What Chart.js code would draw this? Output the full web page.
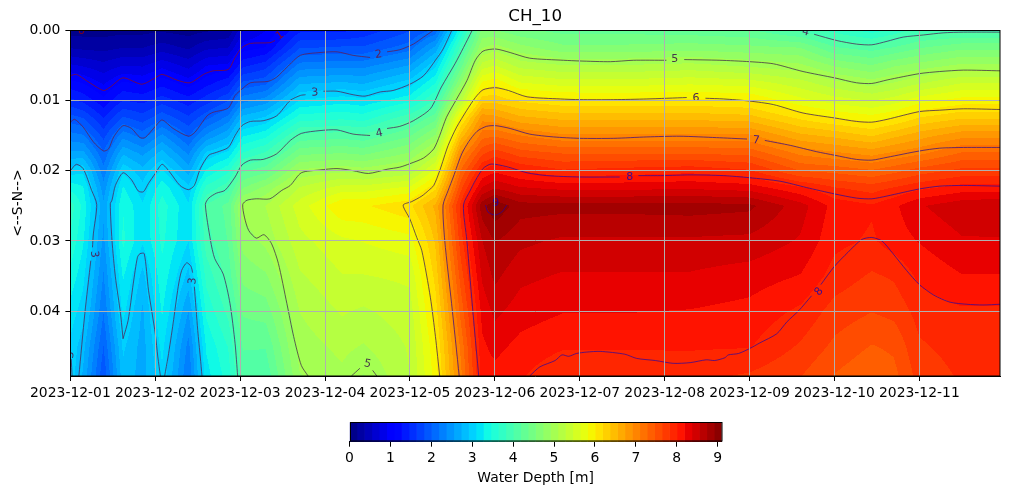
<!DOCTYPE html>
<html>
<head>
<meta charset="utf-8">
<title>CH_10</title>
<script src="https://cdn.jsdelivr.net/npm/chart.js@4/dist/chart.umd.min.js"></script>
<style>
  html, body { margin: 0; padding: 0; background: #fff; }
  canvas { position: absolute; left: 0; }
  #depthChart { top: 0; }
  #colorBar { top: 400px; }
</style>
</head>
<body>
<canvas id="depthChart" width="1010" height="400"></canvas>
<canvas id="colorBar" width="1010" height="94"></canvas>
<script>
// tick labels
const dayLabels = ['2023-12-01', '2023-12-02', '2023-12-03', '2023-12-04', '2023-12-05', '2023-12-06',
                   '2023-12-07', '2023-12-08', '2023-12-09', '2023-12-10', '2023-12-11'];
const lastDay = 10.95;
const lastPosition = 0.0492;
const depthMax = 9.1;
const bandCount = 50;

// depth field: one list per column of gridDays, one value per gridPositions
const gridDays = [0, 0.15, 0.39, 0.62, 0.85, 1.08, 1.39, 1.6, 1.86, 2.03, 2.3, 2.7, 3.2, 3.45, 4, 4.3,
                  4.6, 4.85, 5, 5.3, 5.8, 6.5, 7.3, 8, 8.6, 9, 9.44, 9.7, 10, 10.5, 10.95];
const gridPositions = [0, 0.0025, 0.005, 0.0075, 0.01, 0.0125, 0.015, 0.0175, 0.02, 0.0225, 0.025, 0.03, 0.035, 0.04, 0.045, 0.0492];
const depthByDay = [
  [0.1, 0.35, 0.75, 1.15, 1.5, 1.9, 2.25, 2.6, 3.0, 3.4, 3.75, 3.6, 3.4, 3.2, 3.05, 3.02],
  [0.1, 0.32, 0.7, 1.08, 1.4, 1.82, 2.2, 2.6, 3.05, 3.3, 3.4, 3.3, 3.15, 3.0, 2.8, 2.7],
  [0.1, 0.3, 0.6, 0.88, 1.15, 1.45, 1.75, 2.03, 2.25, 2.45, 2.6, 2.5, 2.35, 2.2, 2.0, 1.85],
  [0.12, 0.36, 0.72, 1.12, 1.45, 1.85, 2.3, 2.7, 3.05, 3.3, 3.45, 3.5, 3.3, 3.15, 2.95, 2.85],
  [0.12, 0.36, 0.7, 1.05, 1.4, 1.72, 2.1, 2.5, 2.8, 2.98, 3.12, 3.12, 2.85, 2.7, 2.65, 2.65],
  [0.15, 0.45, 0.85, 1.2, 1.55, 1.95, 2.4, 2.8, 3.12, 3.4, 3.55, 3.5, 3.4, 3.3, 3.15, 3.05],
  [0.1, 0.33, 0.66, 1.0, 1.35, 1.68, 1.98, 2.33, 2.65, 2.97, 3.12, 3.1, 2.85, 2.55, 2.3, 2.2],
  [0.15, 0.5, 0.9, 1.2, 1.55, 1.95, 2.4, 2.95, 3.3, 3.7, 4.02, 3.92, 3.7, 3.5, 3.3, 3.2],
  [0.2, 0.55, 0.95, 1.4, 1.8, 2.25, 2.7, 3.15, 3.6, 3.95, 4.25, 4.2, 4.08, 3.88, 3.65, 3.55],
  [0.7, 1.0, 1.4, 1.85, 2.3, 2.8, 3.25, 3.65, 4.15, 4.55, 5.0, 4.8, 4.6, 4.4, 4.2, 4.1],
  [0.9, 1.1, 1.55, 1.95, 2.45, 2.95, 3.4, 3.85, 4.3, 4.8, 5.1, 4.97, 4.7, 4.45, 4.2, 4.05],
  [1.4, 1.8, 2.25, 2.7, 3.1, 3.55, 4.05, 4.5, 4.95, 5.3, 5.55, 5.4, 5.25, 5.1, 5.0, 4.9],
  [1.4, 1.85, 2.3, 2.75, 3.2, 3.6, 4.1, 4.55, 5.05, 5.55, 5.98, 5.6, 5.45, 5.3, 5.15, 5.05],
  [1.5, 1.85, 2.3, 2.7, 3.15, 3.55, 4.05, 4.5, 5.0, 5.55, 5.98, 5.65, 5.45, 5.25, 5.08, 4.9],
  [1.8, 2.1, 2.55, 3.0, 3.4, 3.95, 4.35, 4.75, 5.15, 5.7, 6.15, 5.75, 5.5, 5.38, 5.3, 5.28],
  [2.05, 2.6, 3.05, 3.45, 3.85, 4.3, 4.75, 5.2, 5.7, 6.15, 6.6, 6.4, 6.25, 6.1, 5.97, 5.9],
  [3.45, 3.9, 4.3, 4.75, 5.25, 5.95, 6.45, 6.95, 7.3, 7.6, 7.9, 7.75, 7.55, 7.35, 7.15, 7.05],
  [4.6, 4.9, 5.35, 5.85, 6.3, 6.85, 7.2, 7.6, 8.02, 8.4, 8.85, 8.55, 8.4, 8.25, 8.15, 8.1],
  [4.55, 5.0, 5.45, 5.95, 6.3, 6.8, 7.25, 7.75, 8.15, 8.55, 9.06, 8.75, 8.6, 8.42, 8.25, 8.12],
  [4.4, 4.8, 5.2, 5.65, 6.15, 6.6, 7.1, 7.55, 8.0, 8.4, 8.82, 8.6, 8.42, 8.28, 8.13, 8.03],
  [4.3, 4.6, 5.1, 5.55, 6.05, 6.5, 6.95, 7.45, 7.85, 8.33, 8.8, 8.52, 8.35, 8.2, 8.03, 7.85],
  [4.3, 4.6, 5.1, 5.55, 6.03, 6.5, 6.95, 7.45, 7.9, 8.33, 8.8, 8.52, 8.35, 8.2, 8.03, 7.85],
  [4.25, 4.65, 5.15, 5.6, 6.05, 6.5, 6.95, 7.45, 7.95, 8.35, 8.82, 8.52, 8.35, 8.18, 8.03, 7.88],
  [4.2, 4.6, 5.05, 5.55, 6.0, 6.45, 6.95, 7.4, 7.85, 8.3, 8.78, 8.5, 8.28, 8.13, 8.02, 7.8],
  [3.95, 4.55, 4.95, 5.35, 5.7, 6.15, 6.6, 7.05, 7.45, 8.05, 8.45, 8.35, 8.18, 7.97, 7.8, 7.65],
  [3.75, 4.2, 4.7, 5.15, 5.55, 6.0, 6.5, 6.95, 7.4, 7.85, 8.12, 8.06, 7.93, 7.75, 7.6, 7.45],
  [3.55, 4.1, 4.55, 5.0, 5.45, 5.9, 6.35, 6.85, 7.3, 7.75, 8.03, 7.98, 7.8, 7.65, 7.45, 7.3],
  [3.7, 4.2, 4.7, 5.1, 5.55, 6.0, 6.5, 6.95, 7.4, 7.85, 8.15, 8.1, 7.85, 7.7, 7.5, 7.4],
  [3.9, 4.35, 4.8, 5.25, 5.75, 6.2, 6.65, 7.05, 7.55, 7.97, 8.35, 8.2, 8.05, 7.9, 7.8, 7.72],
  [3.95, 4.5, 4.95, 5.45, 5.9, 6.35, 6.85, 7.3, 7.7, 8.1, 8.5, 8.35, 8.18, 7.98, 7.9, 7.85],
  [3.95, 4.5, 4.95, 5.45, 5.9, 6.35, 6.85, 7.3, 7.7, 8.1, 8.55, 8.35, 8.18, 7.98, 7.9, 7.85]
];

// contour lines, null marks the gap left for a label
const contour1Days = [0, 0.07, 0.19, 0.39, 0.47, 0.62, 0.84, 1.0, 1.08, 1.25, 1.41, 1.57, 1.68, 1.86, 1.94, 2.02, 2.12, 2.35, 2.41, 2.47, 2.5];
const contour1Pos = [0.0065, 0.0063, 0.0072, 0.0086, 0.0081, 0.0068, 0.0077, 0.0068, 0.0063, 0.0071, 0.0075, 0.0063, 0.0058, 0.0056, 0.0039, 0.0025, 0.0019, 0.0018, 0.0015, null, 0.0001];

const contour2Days = [0, 0.05, 0.15, 0.27, 0.39, 0.45, 0.51, 0.62, 0.72, 0.82, 0.88, 1.0, 1.08, 1.21, 1.39, 1.47, 1.61, 1.68, 1.86, 1.94, 2.02, 2.12, 2.33, 2.43, 2.55, 2.71, 2.94, 3.14, 3.33, 3.53, 3.63, 3.73, 3.88, 4.04, 4.16, 4.27];
const contour2Pos = [0.0131, 0.0127, 0.0138, 0.0159, 0.0172, 0.0169, 0.0152, 0.0136, 0.014, 0.0153, 0.0153, 0.0137, 0.0128, 0.014, 0.0151, 0.0145, 0.0122, 0.0117, 0.0111, 0.0093, 0.0084, 0.0075, 0.0073, 0.0067, 0.0053, 0.0036, 0.0032, 0.0031, 0.0036, 0.0039, null, 0.0031, 0.0028, 0.002, 0.001, 0.0001];

const contour3aDays = [0, 0.07, 0.15, 0.25, 0.31, 0.27, 0.26, 0.28, 0.24, 0.17, 0.1];
const contour3aPos = [0.02, 0.0191, 0.0197, 0.0228, 0.0248, 0.029, 0.0309, null, 0.0328, 0.0403, 0.0492];
const contour3bDays = [0.01, 0.02];
const contour3bPos = [0.0468, 0.0492];
const contour3cDays = [0.62, 0.59, 0.53, 0.49, 0.47, 0.49, 0.53, 0.62, 0.72, 0.8, 0.86, 0.92, 1.0, 1.08, 1.17, 1.29, 1.39, 1.46, 1.53, 1.63, 1.72, 1.86, 1.94, 2.02, 2.12, 2.27, 2.43, 2.59, 2.71, 2.77, 2.88, 2.98, 3.14, 3.33, 3.47, 3.65, 3.8, 4.0, 4.16, 4.3, 4.39, 4.49];
const contour3cPos = [0.0439, 0.0403, 0.0351, 0.0299, 0.0247, 0.0242, 0.0221, 0.0203, 0.0213, 0.0229, 0.023, 0.0218, 0.0204, 0.0191, 0.0202, 0.0221, 0.0227, 0.0221, 0.0197, 0.0178, 0.0174, 0.0167, 0.015, 0.0136, 0.013, 0.0129, 0.0122, 0.01, 0.0093, 0.0092, null, 0.0087, 0.0087, 0.0092, 0.0094, 0.0088, 0.0086, 0.0077, 0.0065, 0.0043, 0.0027, 0.0001];
const contour3dDays = [0.62, 0.68, 0.74, 0.79, 0.82, 0.87, 0.92, 1.0, 1.03, 1.06];
const contour3dPos = [0.0439, 0.0413, 0.0361, 0.0323, 0.0318, 0.0318, 0.037, 0.0432, 0.0465, 0.0492];
const contour3eDays = [1.11, 1.15, 1.21, 1.27, 1.31, 1.37, 1.42, 1.44, 1.44, 1.46, 1.5, 1.53, 1.55];
const contour3ePos = [0.0492, 0.0465, 0.0417, 0.0365, 0.0342, 0.0331, 0.0336, 0.0345, null, 0.0365, 0.0427, 0.0465, 0.0492];

const contour4aDays = [1.97, 1.94, 1.88, 1.8, 1.7, 1.65, 1.59, 1.63, 1.72, 1.82, 1.94, 2.02, 2.12, 2.27, 2.43, 2.59, 2.72, 2.94, 3.14, 3.33, 3.53, 3.64, 3.73, 3.88, 4.04, 4.24, 4.37, 4.53, 4.63, 4.73];
const contour4aPos = [0.0492, 0.0446, 0.0389, 0.0347, 0.0325, 0.0299, 0.0248, 0.0239, 0.0232, 0.0228, 0.0209, 0.0192, 0.0185, 0.0184, 0.0176, 0.0157, 0.0147, 0.0143, 0.0142, 0.0148, 0.015, null, 0.014, 0.0137, 0.0129, 0.0112, 0.0081, 0.0048, 0.0025, 0.0001];
const contour4bDays = [8.76, 9.03, 9.26, 9.44, 9.62, 9.81, 10.05, 10.28, 10.52, 10.95];
const contour4bPos = [0.0006, 0.0015, 0.002, 0.0021, 0.0016, 0.001, 0.0007, 0.0004, 0.0003, 0.0003];

const contour5aDays = [2.8, 2.72, 2.63, 2.55, 2.45, 2.37, 2.28, 2.19, 2.1, 2.05, 2.03, 2.08, 2.19, 2.35, 2.49, 2.59, 2.72, 2.94, 3.14, 3.33, 3.51, 3.73, 3.88, 4.0, 4.16, 4.28, 4.35, 4.43, 4.55, 4.67, 4.77, 4.86, 5.01, 5.18, 5.41, 5.81, 6.0, 6.36, 6.63, 7.02, 7.12, 7.23, 7.65, 8.0, 8.28, 8.63, 9.0, 9.26, 9.44, 9.62, 10.0, 10.24, 10.52, 10.95];
const contour5aPos = [0.0492, 0.0477, 0.0436, 0.0389, 0.0332, 0.0304, 0.0291, 0.0296, 0.0285, 0.0266, 0.0248, 0.0242, 0.024, 0.024, 0.0228, 0.0221, 0.0203, 0.0199, 0.0197, 0.02, 0.0204, 0.0198, 0.0195, 0.019, 0.0182, 0.0169, 0.015, 0.0124, 0.0098, 0.0072, 0.0043, 0.003, 0.0027, 0.0032, 0.004, 0.0043, 0.0044, 0.0045, 0.0043, 0.0043, null, 0.0042, 0.0043, 0.0045, 0.0048, 0.0059, 0.0068, 0.0075, 0.0076, 0.0071, 0.0062, 0.0059, 0.0057, 0.0058];
const contour5bDays = [3.31, 3.41, 3.5, 3.56, 3.61];
const contour5bPos = [0.0492, 0.0481, null, 0.0484, 0.0492];

const contour6Days = [4.35, 4.3, 4.24, 4.14, 4.08, 4.0, 3.92, 4.02, 4.14, 4.22, 4.28, 4.35, 4.45, 4.55, 4.67, 4.77, 4.86, 5.01, 5.16, 5.38, 5.77, 6.0, 6.4, 6.79, 7.26, 7.37, 7.48, 7.69, 8.0, 8.28, 8.63, 9.0, 9.26, 9.44, 9.62, 10.0, 10.24, 10.52, 10.95];
const contour6Pos = [0.0492, 0.0436, 0.038, 0.0314, 0.0295, 0.0269, 0.0249, 0.0244, 0.0236, 0.0228, 0.0221, 0.02, 0.0164, 0.0138, 0.0114, 0.0096, 0.0085, 0.0082, 0.0086, 0.0095, 0.0098, 0.0099, 0.0099, 0.0098, 0.0096, null, 0.0097, 0.0098, 0.0101, 0.0106, 0.0118, 0.0125, 0.013, 0.0131, 0.0127, 0.0116, 0.0114, 0.0112, 0.0113];

const contour7Days = [4.58, 4.49, 4.41, 4.39, 4.45, 4.51, 4.61, 4.69, 4.79, 4.9, 5.01, 5.18, 5.41, 5.69, 6.0, 6.4, 6.79, 7.18, 7.61, 7.97, 8.08, 8.18, 8.48, 8.79, 9.0, 9.26, 9.44, 9.62, 10.0, 10.24, 10.52, 10.95];
const contour7Pos = [0.0492, 0.0389, 0.03, 0.0249, 0.0228, 0.0209, 0.0176, 0.0159, 0.0144, 0.0137, 0.0136, 0.014, 0.0148, 0.0152, 0.0154, 0.0154, 0.0152, 0.0151, 0.0153, 0.0155, null, 0.0157, 0.0164, 0.0173, 0.0178, 0.0184, 0.0185, 0.0181, 0.0172, 0.0168, 0.0167, 0.0167];

const contour8aDays = [4.81, 4.75, 4.67, 4.63, 4.71, 4.77, 4.86, 4.94, 5.01, 5.16, 5.38, 5.61, 6.0, 6.47, 6.59, 6.69, 6.98, 7.3, 7.69, 8.0, 8.36, 8.67, 9.0, 9.26, 9.44, 9.62, 10.0, 10.24, 10.52, 10.95];
const contour8aPos = [0.0492, 0.0413, 0.0299, 0.0249, 0.0228, 0.0214, 0.0197, 0.0191, 0.0191, 0.0195, 0.0203, 0.0207, 0.0209, 0.0209, null, 0.0207, 0.0207, 0.0206, 0.0207, 0.021, 0.0215, 0.0224, 0.0233, 0.0239, 0.024, 0.0236, 0.0226, 0.0222, 0.0221, 0.0222];
const contour8bDays = [5.41, 5.53, 5.71, 5.79, 5.87, 5.96, 6.08, 6.24, 6.53, 6.67, 6.89, 7.1, 7.3, 7.49, 7.59, 7.71, 7.75, 7.87, 8.0, 8.12, 8.32, 8.44, 8.58, 8.73, 8.82, 8.84, 9.0, 9.16, 9.32, 9.44, 9.56, 9.69, 9.85, 10.0, 10.17, 10.36, 10.56, 10.75, 10.95];
const contour8bPos = [0.0492, 0.0479, 0.047, 0.0462, 0.0464, 0.046, 0.0458, 0.0457, 0.0461, 0.0467, 0.047, 0.0474, 0.0473, 0.0469, 0.047, 0.0466, 0.0462, 0.046, 0.0453, 0.0445, 0.0432, 0.0415, 0.0399, 0.0378, null, 0.0362, 0.0336, 0.0316, 0.0298, 0.0295, 0.03, 0.0318, 0.0342, 0.0362, 0.0377, 0.0387, 0.039, 0.0391, 0.039];

const contour9Days = [4.89, 4.92, 5.0, 5.08, 5.14];
const contour9Pos = [0.0249, 0.0259, 0.0263, 0.0259, 0.0249];

const contourLines = [
  [1, contour1Days, contour1Pos], [2, contour2Days, contour2Pos],
  [3, contour3aDays, contour3aPos], [3, contour3bDays, contour3bPos], [3, contour3cDays, contour3cPos],
  [3, contour3dDays, contour3dPos], [3, contour3eDays, contour3ePos],
  [4, contour4aDays, contour4aPos], [4, contour4bDays, contour4bPos],
  [5, contour5aDays, contour5aPos], [5, contour5bDays, contour5bPos],
  [6, contour6Days, contour6Pos], [7, contour7Days, contour7Pos],
  [8, contour8aDays, contour8aPos], [8, contour8bDays, contour8bPos], [9, contour9Days, contour9Pos]
];

// contour labels
const labelTexts = ['0', '1', '2', '3', '3', '3', '3', '4', '4', '5', '5', '6', '7', '8', '8', '9'];
const labelDays = [0.13, 2.47, 3.63, 2.88, 0.28, 1.44, 0.0, 3.64, 8.66, 7.12, 3.5, 7.37, 8.08, 6.59, 8.82, 5.01];
const labelPos = [0.0002, 0.0008, 0.0035, 0.0089, 0.0319, 0.0357, 0.0462, 0.0147, 0.0003, 0.0042, 0.0475, 0.0097, 0.0157, 0.0209, 0.0372, 0.0246];
const labelAngles = [0, -35, -8, -3, 85, -85, -85, -12, 15, 0, 12, 0, 5, 0, -50, 0];

// line colour per level, dark red at the shallow end to indigo at the deep end
const levelColors = ['#8c0010', '#840a2c', '#5c1f58', '#4a2a60', '#4a2e5e', '#463648', '#4a2a50', '#46167a', '#3c0a90', '#300090'];
const fontFamily = '"DejaVu Sans", sans-serif';

Chart.defaults.color = '#000';
Chart.defaults.font.family = fontFamily;
Chart.defaults.font.size = 13.9;

// matplotlib jet
function jetChannel(stops, t) {
  for (let i = 1; i < stops.length; i++) {
    if (t <= stops[i][0]) {
      const a = stops[i - 1], b = stops[i];
      return a[1] + (b[1] - a[1]) * (t - a[0]) / (b[0] - a[0]);
    }
  }
  return stops[stops.length - 1][1];
}
function jet(t) {
  const r = jetChannel([[0, 0], [0.35, 0], [0.66, 1], [0.89, 1], [1, 0.5]], t);
  const g = jetChannel([[0, 0], [0.125, 0], [0.375, 1], [0.64, 1], [0.91, 0], [1, 0]], t);
  const b = jetChannel([[0, 0.5], [0.11, 1], [0.34, 1], [0.65, 0], [1, 0]], t);
  return 'rgb(' + Math.round(r * 255) + ',' + Math.round(g * 255) + ',' + Math.round(b * 255) + ')';
}
const bandColors = [];
for (let i = 0; i < bandCount; i++) bandColors.push(jet((i + 0.5) / bandCount));

function bandColor(value) {
  const i = Math.floor(value / depthMax * bandCount);
  return bandColors[Math.max(0, Math.min(bandCount - 1, i))];
}

function findCell(list, value) {
  for (let i = 1; i < list.length; i++) {
    if (value <= list[i]) return i - 1;
  }
  return list.length - 2;
}

function depthAt(day, pos) {
  const c = findCell(gridDays, day);
  const r = findCell(gridPositions, pos);
  const tx = (day - gridDays[c]) / (gridDays[c + 1] - gridDays[c]);
  const ty = (pos - gridPositions[r]) / (gridPositions[r + 1] - gridPositions[r]);
  const top = depthByDay[c][r] * (1 - tx) + depthByDay[c + 1][r] * tx;
  const low = depthByDay[c][r + 1] * (1 - tx) + depthByDay[c + 1][r + 1] * tx;
  return top * (1 - ty) + low * ty;
}

// filled contour bands, painted under the lines
const depthField = {
  id: 'depthField',
  beforeDatasetsDraw(chart) {
    const { ctx, chartArea, scales } = chart;
    ctx.save();
    for (let px = Math.floor(chartArea.left); px < chartArea.right; px++) {
      const day = Math.max(0, scales.x.getValueForPixel(px + 0.5));
      for (let py = Math.floor(chartArea.top); py < chartArea.bottom; py++) {
        const pos = Math.max(0, scales.y.getValueForPixel(py + 0.5));
        ctx.fillStyle = bandColor(depthAt(day, pos));
        ctx.fillRect(px, py, 1, 1);
      }
    }
    ctx.restore();
  }
};

const contourLabels = {
  id: 'contourLabels',
  afterDatasetsDraw(chart) {
    const { ctx, chartArea, scales } = chart;
    ctx.save();
    ctx.beginPath();
    ctx.rect(chartArea.left, chartArea.top, chartArea.width, chartArea.height);
    ctx.clip();
    ctx.font = '11px ' + fontFamily;
    ctx.textAlign = 'center';
    ctx.textBaseline = 'middle';
    labelTexts.forEach(function(text, i) {
      ctx.save();
      ctx.fillStyle = levelColors[Number(text)];
      ctx.translate(scales.x.getPixelForValue(labelDays[i]), scales.y.getPixelForValue(labelPos[i]));
      ctx.rotate(labelAngles[i] * Math.PI / 180);
      ctx.fillText(text, 0, 0);
      ctx.restore();
    });
    ctx.restore();
  }
};

const frame = {
  id: 'frame',
  afterDraw(chart) {
    const { ctx, chartArea } = chart;
    ctx.save();
    ctx.strokeStyle = '#000';
    ctx.lineWidth = 1;
    ctx.strokeRect(Math.round(chartArea.left) + 0.5, Math.round(chartArea.top) + 0.5,
                   Math.round(chartArea.width) - 0.5, Math.round(chartArea.height) - 0.5);
    ctx.restore();
  }
};

new Chart(document.getElementById('depthChart'), {
  type: 'scatter',
  data: {
    datasets: contourLines.map(function(line) {
      return {
        data: line[1].map(function(day, i) { return { x: day, y: line[2][i] }; }),
        showLine: true,
        pointRadius: 0,
        borderColor: levelColors[line[0]],
        borderWidth: 0.8,
        tension: 0.25
      };
    })
  },
  options: {
    responsive: false,
    animation: false,
    devicePixelRatio: 1,
    layout: { padding: { left: 0, right: 10, top: 0, bottom: 0 } },
    plugins: {
      legend: { display: false },
      tooltip: { enabled: false },
      title: {
        display: true,
        text: 'CH_10',
        fullSize: false,
        font: { size: 16.7, weight: 'normal' },
        padding: { top: 7, bottom: 3 }
      }
    },
    scales: {
      x: {
        type: 'linear',
        min: 0,
        max: lastDay,
        afterFit: function(scale) { scale.height = 24; },
        grid: { color: '#b0b0b0', lineWidth: 1, z: 1, tickLength: 5, tickColor: '#000' },
        border: { color: '#000', z: 2 },
        ticks: {
          stepSize: 1,
          includeBounds: false,
          autoSkip: false,
          maxRotation: 0,
          padding: 4,
          callback: function(value) { return dayLabels[value]; }
        }
      },
      y: {
        type: 'linear',
        reverse: true,
        min: 0,
        max: lastPosition,
        afterFit: function(scale) { scale.width = 70.4; },
        title: { display: true, text: '<--S-N-->', padding: { top: 10, bottom: 0 } },
        grid: { color: '#b0b0b0', lineWidth: 1, z: 1, tickLength: 5, tickColor: '#000' },
        border: { color: '#000', z: 2 },
        ticks: {
          stepSize: 0.01,
          includeBounds: false,
          padding: 5,
          callback: function(value) { return value.toFixed(2); }
        }
      }
    }
  },
  plugins: [depthField, contourLabels, frame]
});

// colour bar, one floating bar per band
new Chart(document.getElementById('colorBar'), {
  type: 'bar',
  data: {
    labels: ['depth'],
    datasets: bandColors.map(function(color, i) {
      return {
        data: [[i * depthMax / bandCount, (i + 1) * depthMax / bandCount]],
        backgroundColor: color,
        borderWidth: 0,
        barPercentage: 1,
        categoryPercentage: 1,
        grouped: false
      };
    })
  },
  options: {
    indexAxis: 'y',
    responsive: false,
    animation: false,
    devicePixelRatio: 1,
    layout: { padding: { left: 349.5, right: 288.3, top: 22.3, bottom: 7 } },
    plugins: { legend: { display: false }, tooltip: { enabled: false } },
    scales: {
      x: {
        type: 'linear',
        min: 0,
        max: depthMax,
        afterFit: function(scale) { scale.height = 45.3; },
        title: { display: true, text: 'Water Depth [m]', padding: { top: 4, bottom: 0 } },
        grid: { drawOnChartArea: false, tickLength: 5, tickColor: '#000' },
        border: { color: '#000' },
        ticks: { stepSize: 1, includeBounds: false, autoSkip: false, maxRotation: 0, padding: 3 }
      },
      y: { display: false }
    }
  },
  plugins: [frame]
});
</script>
</body>
</html>
